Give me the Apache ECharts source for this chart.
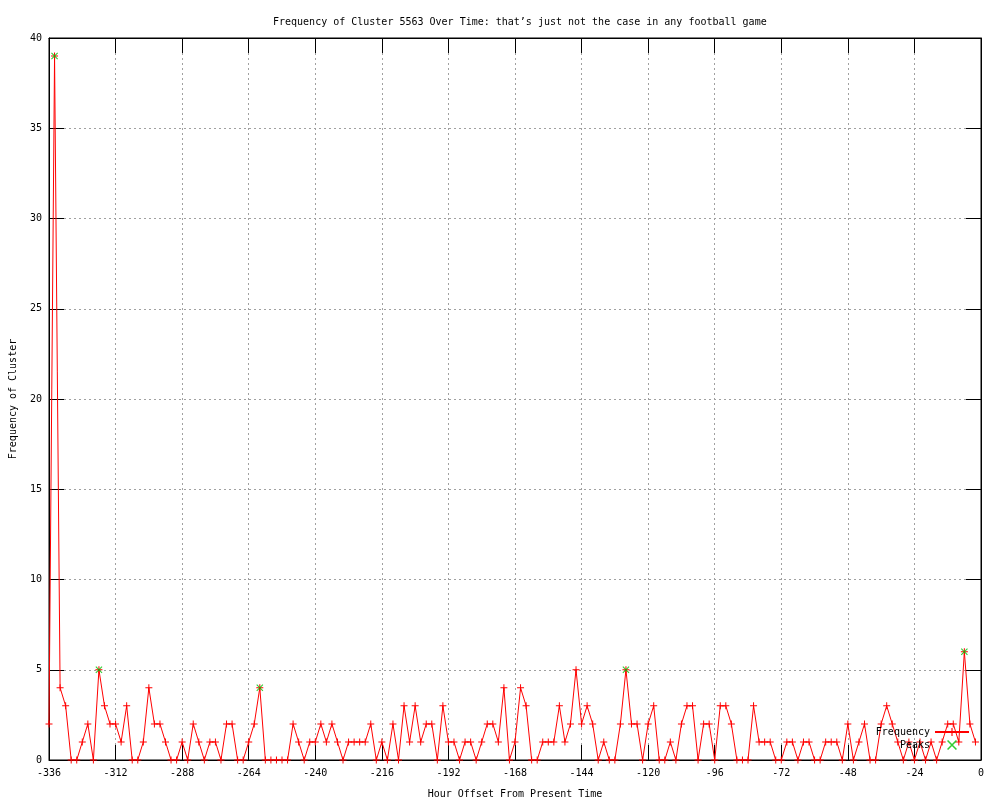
<!DOCTYPE html>
<html>
<head>
<meta charset="utf-8">
<script src="https://cdn.jsdelivr.net/npm/echarts@6/dist/echarts.min.js"></script>
<style>
  html, body { margin: 0; padding: 0; background: #fff; }
  #chart { width: 1000px; height: 800px; }
</style>
</head>
<body>
<div id="chart"></div>
<script>
// hours from present, one sample every 2 hours
const hours = [
  -336, -334, -332, -330, -328, -326, -324, -322, -320, -318, -316, -314,
  -312, -310, -308, -306, -304, -302, -300, -298, -296, -294, -292, -290,
  -288, -286, -284, -282, -280, -278, -276, -274, -272, -270, -268, -266,
  -264, -262, -260, -258, -256, -254, -252, -250, -248, -246, -244, -242,
  -240, -238, -236, -234, -232, -230, -228, -226, -224, -222, -220, -218,
  -216, -214, -212, -210, -208, -206, -204, -202, -200, -198, -196, -194,
  -192, -190, -188, -186, -184, -182, -180, -178, -176, -174, -172, -170,
  -168, -166, -164, -162, -160, -158, -156, -154, -152, -150, -148, -146,
  -144, -142, -140, -138, -136, -134, -132, -130, -128, -126, -124, -122,
  -120, -118, -116, -114, -112, -110, -108, -106, -104, -102, -100, -98,
  -96, -94, -92, -90, -88, -86, -84, -82, -80, -78, -76, -74,
  -72, -70, -68, -66, -64, -62, -60, -58, -56, -54, -52, -50,
  -48, -46, -44, -42, -40, -38, -36, -34, -32, -30, -28, -26,
  -24, -22, -20, -18, -16, -14, -12, -10, -8, -6, -4, -2
];
const frequency = [
  2, 39, 4, 3, 0, 0, 1, 2, 0, 5, 3, 2,
  2, 1, 3, 0, 0, 1, 4, 2, 2, 1, 0, 0,
  1, 0, 2, 1, 0, 1, 1, 0, 2, 2, 0, 0,
  1, 2, 4, 0, 0, 0, 0, 0, 2, 1, 0, 1,
  1, 2, 1, 2, 1, 0, 1, 1, 1, 1, 2, 0,
  1, 0, 2, 0, 3, 1, 3, 1, 2, 2, 0, 3,
  1, 1, 0, 1, 1, 0, 1, 2, 2, 1, 4, 0,
  1, 4, 3, 0, 0, 1, 1, 1, 3, 1, 2, 5,
  2, 3, 2, 0, 1, 0, 0, 2, 5, 2, 2, 0,
  2, 3, 0, 0, 1, 0, 2, 3, 3, 0, 2, 2,
  0, 3, 3, 2, 0, 0, 0, 3, 1, 1, 1, 0,
  0, 1, 1, 0, 1, 1, 0, 0, 1, 1, 1, 0,
  2, 0, 1, 2, 0, 0, 2, 3, 2, 1, 0, 1,
  0, 1, 0, 1, 0, 1, 2, 2, 1, 6, 2, 1
];
const peakHours = [-334, -318, -260, -128, -6];
const peakValues = [39, 5, 4, 5, 6];

const xTicks = { min: -336, max: 0, interval: 24 };
const yTicks = { min: 0, max: 40, interval: 5 };

const FONT = "DejaVu Sans Mono";
const plusPath = "path://M0,3H7V4H0Z M3,0H4V7H3Z";
const crossPath = "path://M0,1L1,0L9,8L8,9Z M8,0L9,1L1,9L0,8Z";

const chart = echarts.init(document.getElementById("chart"));

function tickStyle() {
  return {
    show: true,
    inside: true,
    length: 15,
    lineStyle: { color: "#000", width: 1 },
  };
}

function gridLine() {
  return { show: true, lineStyle: { color: "#a0a0a0", width: 1, type: [2, 3] } };
}

const options = {
  animation: false,
  backgroundColor: "#fff",
  title: {
    text: "Frequency of Cluster 5563 Over Time: that\u2019s just not the case in any football game",
    left: 268,
    top: 12,
    textStyle: { fontFamily: FONT, fontSize: 10, fontWeight: "normal", color: "#000" },
  },
  grid: {
    left: 49,
    right: 19,
    top: 38,
    bottom: 40,
    outerBoundsMode: "none",
    containLabel: false,
    show: true,
    borderColor: "#000",
    borderWidth: 1,
    backgroundColor: "transparent",
  },
  legend: {
    data: ["Frequency", "Peaks"],
    orient: "vertical",
    right: 25,
    top: 722,
    align: "right",
    itemWidth: 34,
    itemHeight: 10,
    itemGap: 3,
    textStyle: { fontFamily: FONT, fontSize: 10, color: "#000" },
  },
  xAxis: [
    {
      type: "value",
      ...xTicks,
      name: "Hour Offset From Present Time",
      nameLocation: "middle",
      nameGap: 29,
      nameTextStyle: { fontFamily: FONT, fontSize: 10, color: "#000" },
      axisLine: { show: true, onZero: false, lineStyle: { color: "#000" } },
      axisTick: tickStyle(),
      axisLabel: { fontFamily: FONT, fontSize: 10, color: "#000", margin: 8 },
      splitLine: gridLine(),
    },
    {
      type: "value",
      ...xTicks,
      position: "top",
      axisLine: { show: true, onZero: false, lineStyle: { color: "#000" } },
      axisTick: tickStyle(),
      axisLabel: { show: false },
      splitLine: { show: false },
    },
  ],
  yAxis: [
    {
      type: "value",
      ...yTicks,
      name: "Frequency of Cluster",
      nameLocation: "middle",
      nameGap: 31,
      nameTextStyle: { fontFamily: FONT, fontSize: 10, color: "#000" },
      axisLine: { show: true, onZero: false, lineStyle: { color: "#000" } },
      axisTick: tickStyle(),
      axisLabel: { fontFamily: FONT, fontSize: 10, color: "#000", margin: 7 },
      splitLine: gridLine(),
    },
    {
      type: "value",
      ...yTicks,
      position: "right",
      axisLine: { show: true, onZero: false, lineStyle: { color: "#000" } },
      axisTick: tickStyle(),
      axisLabel: { show: false },
      splitLine: { show: false },
    },
  ],
  series: [
    {
      name: "Frequency",
      type: "line",
      data: hours.map((h, i) => [h, frequency[i]]),
      color: "#ff0000",
      lineStyle: { color: "#ff0000", width: 1 },
      symbol: plusPath,
      symbolSize: 7,
      showAllSymbol: true,
      itemStyle: { color: "#ff0000" },
      z: 3,
    },
    {
      name: "Peaks",
      type: "scatter",
      data: peakHours.map((h, i) => [h, peakValues[i]]),
      color: "#00c000",
      symbol: crossPath,
      symbolSize: 7,
      itemStyle: { color: "#00c000" },
      z: 4,
    },
  ],
};

chart.setOption(options);
</script>
</body>
</html>
